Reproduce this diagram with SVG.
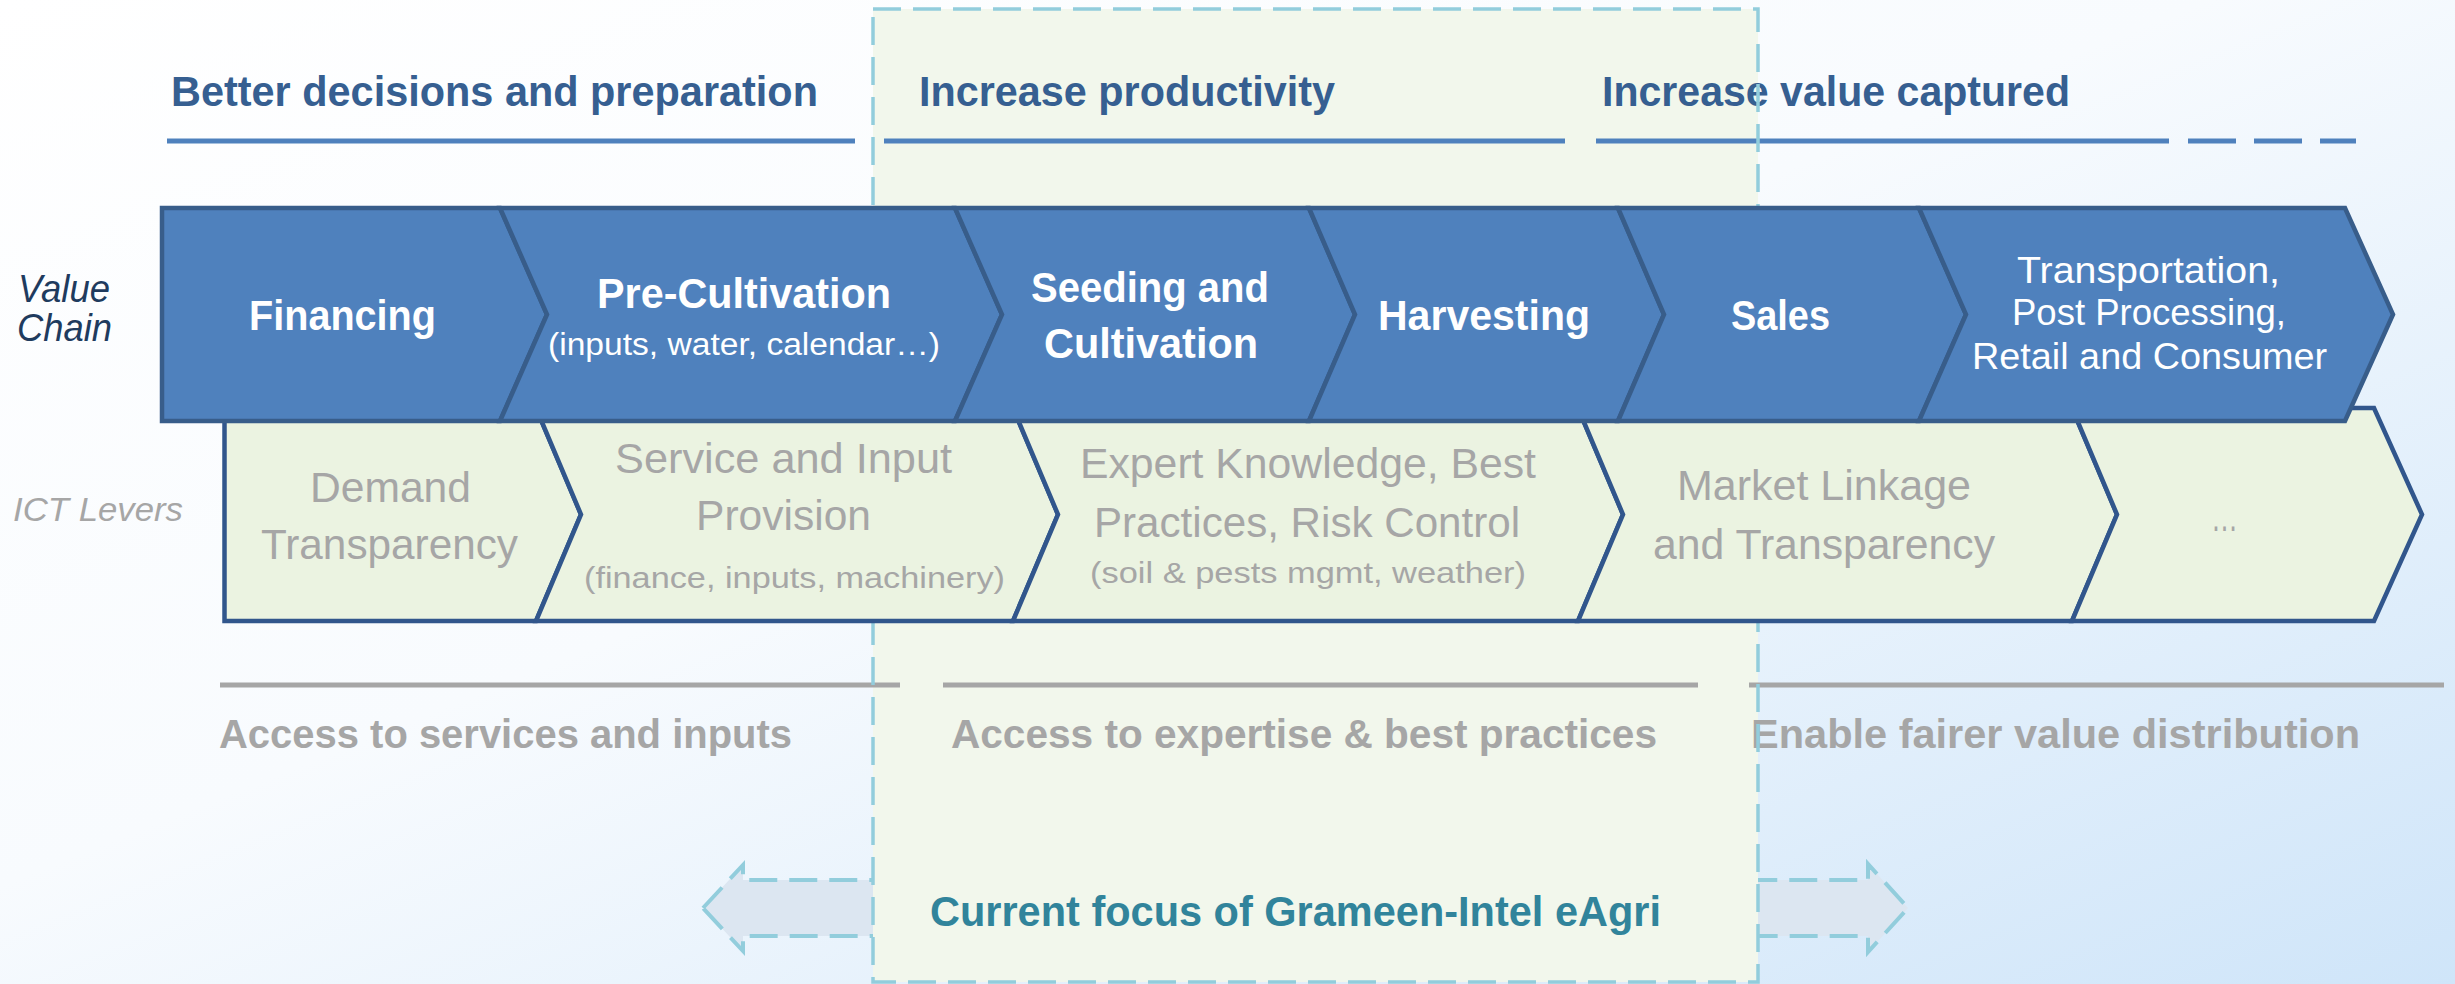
<svg xmlns="http://www.w3.org/2000/svg" width="2455" height="984" viewBox="0 0 2455 984">
<defs>
<linearGradient id="bg" x1="0" y1="0" x2="1" y2="1">
<stop offset="0" stop-color="#FFFFFF"/>
<stop offset="0.45" stop-color="#F8FBFE"/>
<stop offset="1" stop-color="#CFE5F9"/>
</linearGradient>
<style>
text{font-family:"Liberation Sans",Arial,sans-serif;}
.title{font-size:42px;font-weight:bold;fill:#365F91;}
.vc{fill:#4F81BD;stroke:#385D8A;stroke-width:4.5;stroke-linejoin:miter;}
.ict{fill:#EBF3E1;stroke:#31568C;stroke-width:4.5;stroke-linejoin:miter;}
.vct{font-size:42px;font-weight:bold;fill:#FFFFFF;text-anchor:middle;}
.vcs{font-size:31px;fill:#FFFFFF;text-anchor:middle;}
.vcr{font-size:36px;fill:#FFFFFF;text-anchor:middle;}
.ictt{font-size:42px;fill:#A6A6A6;text-anchor:middle;}
.icts{font-size:30px;fill:#A6A6A6;text-anchor:middle;}
.bot{font-size:41px;font-weight:bold;fill:#A6A6A6;}
.side{font-style:italic;}
.bline{stroke:#4F81BD;stroke-width:5;fill:none;}
.gline{stroke:#A6A6A6;stroke-width:5;fill:none;}
.dash{fill:none;stroke:#92CDDC;stroke-width:3.5;stroke-dasharray:28 12;}
</style>
</defs>
<rect x="0" y="0" width="2455" height="984" fill="url(#bg)"/>

<g id="focus-arrow">
<polygon points="703,908 743,865 743,880 1868,880 1868,864 1908,908 1868,952 1868,936 743,936 743,951" fill="#DCE6F1" stroke="#92CDDC" stroke-width="4" stroke-dasharray="28 12"/>
</g>

<g id="focus-box-fill">
<rect x="873" y="9" width="885" height="973" fill="#F2F7EC"/>
</g>

<g id="objectives">
<text class="title" x="171" y="106" textLength="647" lengthAdjust="spacingAndGlyphs">Better decisions and preparation</text>
<text class="title" x="919" y="106" textLength="416" lengthAdjust="spacingAndGlyphs">Increase productivity</text>
<text class="title" x="1602" y="106" textLength="468" lengthAdjust="spacingAndGlyphs">Increase value captured</text>
<line class="bline" x1="167" y1="141" x2="855" y2="141"/>
<line class="bline" x1="884" y1="141" x2="1565" y2="141"/>
<line class="bline" x1="1596" y1="141" x2="2169" y2="141"/>
<line class="bline" x1="2188" y1="141" x2="2236" y2="141"/>
<line class="bline" x1="2254" y1="141" x2="2302" y2="141"/>
<line class="bline" x1="2320" y1="141" x2="2356" y2="141"/>
</g>

<g id="outcomes">
<line class="gline" x1="220" y1="685" x2="900" y2="685"/>
<line class="gline" x1="943" y1="685" x2="1698" y2="685"/>
<line class="gline" x1="1749" y1="685" x2="2444" y2="685"/>
<text class="bot" x="219" y="748" textLength="573" lengthAdjust="spacingAndGlyphs">Access to services and inputs</text>
<text class="bot" x="951" y="748" textLength="706" lengthAdjust="spacingAndGlyphs">Access to expertise &amp; best practices</text>
<text class="bot" x="1751" y="748" textLength="609" lengthAdjust="spacingAndGlyphs">Enable fairer value distribution</text>
</g>

<g id="focus-label">
<text x="930" y="926" font-size="43" font-weight="bold" fill="#31849B" textLength="731" lengthAdjust="spacingAndGlyphs">Current focus of Grameen-Intel eAgri</text>
</g>

<g id="focus-box-outline">
<rect class="dash" x="873" y="9" width="885" height="973"/>
</g>

<g id="row-labels">
<text class="side" x="18" y="302" font-size="39" fill="#1F3B5E" textLength="92" lengthAdjust="spacingAndGlyphs">Value</text>
<text class="side" x="17" y="341" font-size="39" fill="#1F3B5E" textLength="95" lengthAdjust="spacingAndGlyphs">Chain</text>
<text class="side" x="13" y="521" font-size="34" fill="#A6A6A6" textLength="170" lengthAdjust="spacingAndGlyphs">ICT Levers</text>
</g>

<g id="ict-levers">
<g id="ict-demand">
<path class="ict" d="M224.5,408 L536,408 L581,514.5 L536,621 L224.5,621 Z"/>
<text class="ictt" x="390.5" y="502" textLength="161" lengthAdjust="spacingAndGlyphs">Demand</text>
<text class="ictt" x="389.5" y="559" textLength="257" lengthAdjust="spacingAndGlyphs">Transparency</text>
</g>
<g id="ict-service">
<path class="ict" d="M536,408 L1013,408 L1058,514.5 L1013,621 L536,621 L581,514.5 Z"/>
<text class="ictt" x="783.5" y="473" textLength="337" lengthAdjust="spacingAndGlyphs">Service and Input</text>
<text class="ictt" x="783.5" y="530" textLength="175" lengthAdjust="spacingAndGlyphs">Provision</text>
<text class="icts" x="794.5" y="588" textLength="421" lengthAdjust="spacingAndGlyphs">(finance, inputs, machinery)</text>
</g>
<g id="ict-expert">
<path class="ict" d="M1013,408 L1578,408 L1623,514.5 L1578,621 L1013,621 L1058,514.5 Z"/>
<text class="ictt" x="1308" y="478" textLength="456" lengthAdjust="spacingAndGlyphs">Expert Knowledge, Best</text>
<text class="ictt" x="1307" y="537" textLength="426" lengthAdjust="spacingAndGlyphs">Practices, Risk Control</text>
<text class="icts" x="1308" y="583" textLength="436" lengthAdjust="spacingAndGlyphs">(soil &amp; pests mgmt, weather)</text>
</g>
<g id="ict-market">
<path class="ict" d="M1578,408 L2072,408 L2117,514.5 L2072,621 L1578,621 L1623,514.5 Z"/>
<text class="ictt" x="1824" y="500" textLength="294" lengthAdjust="spacingAndGlyphs">Market Linkage</text>
<text class="ictt" x="1824" y="559" textLength="342" lengthAdjust="spacingAndGlyphs">and Transparency</text>
</g>
<g id="ict-more">
<path class="ict" d="M2072,408 L2374,408 L2422,514.5 L2374,621 L2072,621 L2117,514.5 Z"/>
<text class="ictt" x="2224.5" y="531" textLength="27" lengthAdjust="spacingAndGlyphs">…</text>
</g>
</g>

<g id="value-chain">
<g id="vc-financing">
<path class="vc" d="M162,208 L500,208 L547,314.5 L500,421 L162,421 Z"/>
<text class="vct" x="342.5" y="330" textLength="187" lengthAdjust="spacingAndGlyphs">Financing</text>
</g>
<g id="vc-precultivation">
<path class="vc" d="M500,208 L955,208 L1002,314.5 L955,421 L500,421 L547,314.5 Z"/>
<text class="vct" x="744" y="308" textLength="294" lengthAdjust="spacingAndGlyphs">Pre-Cultivation</text>
<text class="vcs" x="744" y="355" textLength="392" lengthAdjust="spacingAndGlyphs">(inputs, water, calendar…)</text>
</g>
<g id="vc-seeding">
<path class="vc" d="M955,208 L1309,208 L1355,314.5 L1309,421 L955,421 L1002,314.5 Z"/>
<text class="vct" x="1150" y="302" textLength="238" lengthAdjust="spacingAndGlyphs">Seeding and</text>
<text class="vct" x="1151" y="358" textLength="214" lengthAdjust="spacingAndGlyphs">Cultivation</text>
</g>
<g id="vc-harvesting">
<path class="vc" d="M1309,208 L1618,208 L1664,314.5 L1618,421 L1309,421 L1355,314.5 Z"/>
<text class="vct" x="1484" y="330" textLength="212" lengthAdjust="spacingAndGlyphs">Harvesting</text>
</g>
<g id="vc-sales">
<path class="vc" d="M1618,208 L1919,208 L1966,314.5 L1919,421 L1618,421 L1664,314.5 Z"/>
<text class="vct" x="1780.5" y="330" textLength="99" lengthAdjust="spacingAndGlyphs">Sales</text>
</g>
<g id="vc-transport">
<path class="vc" d="M1919,208 L2345,208 L2393,314.5 L2345,421 L1919,421 L1966,314.5 Z"/>
<text class="vcr" x="2148.5" y="283" textLength="263" lengthAdjust="spacingAndGlyphs">Transportation,</text>
<text class="vcr" x="2149" y="325" textLength="274" lengthAdjust="spacingAndGlyphs">Post Processing,</text>
<text class="vcr" x="2149.5" y="369" textLength="355" lengthAdjust="spacingAndGlyphs">Retail and Consumer</text>
</g>
</g>

<g id="connectors"></g>
</svg>
